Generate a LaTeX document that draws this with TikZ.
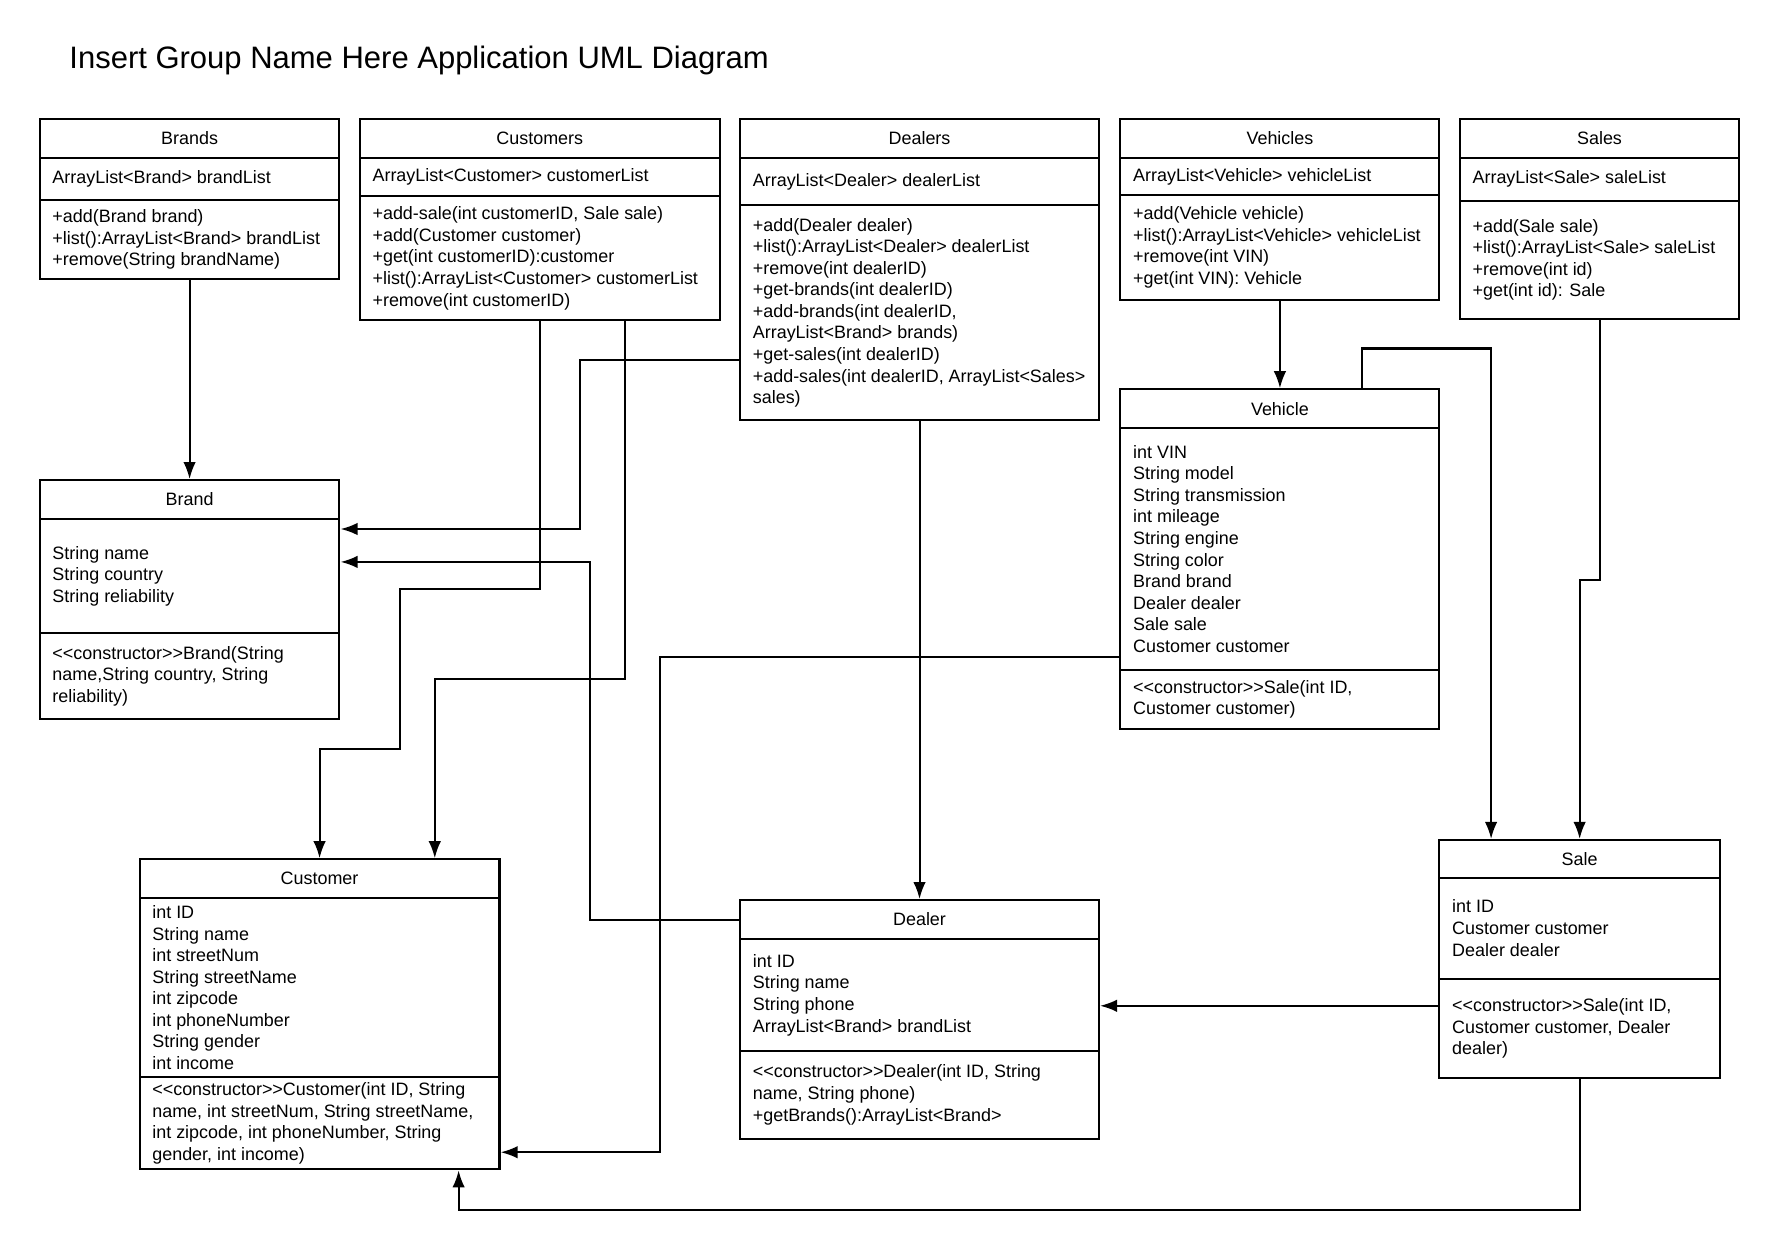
\documentclass[tikz,border=0pt]{standalone}
\usepackage{fontspec}
\newfontfamily\umlfamily{Liberation Sans}
\newcommand{\umlfont}{\umlfamily\fontsize{15.8}{19}\selectfont}
\newcommand{\titlefont}{\umlfamily\fontsize{27.3}{32}\selectfont}
\usetikzlibrary{arrows.meta}
\tikzstyle{compartment}=[draw=black, line width=1.8pt, anchor=north west, inner sep=0pt, outer sep=0pt, font=\umlfont]
\tikzstyle{member}=[anchor=west, inner sep=0pt, align=left, font=\umlfont]
\tikzstyle{link}=[->, line width=1.8pt, shorten >=1pt]
\tikzset{>={Latex[length=15pt,width=11pt]}}

\begin{document}
\begin{tikzpicture}[x=1pt, y=1pt]
        \useasboundingbox (0,0) rectangle (1568,-1102);

        % Title
        \node[anchor=base west, inner sep=0pt, font=\titlefont] (title) at (61,-60) {Insert Group Name Here Application UML Diagram};

        % Classes: head, attributes, operations
        \foreach \cls/\x/\y/\w/\hh/\ha/\ho/\t in {brands/35/105/264/34/37/70/Brands,
            customers/317/105/317/34/34/109/Customers,
            dealers/652/105/316/34/42/189/Dealers,
            vehicles/987/105/281/34/33/92/Vehicles,
            sales/1286/105/246/34/38/104/Sales,
            brand/35/423/264/34/101/75/Brand,
            customer/123/757/317/34/158/81/Customer,
            vehicle/987/343/281/34/213/52/Vehicle,
            dealer/652/793/316/34/99/77/Dealer,
            sale/1268/740/247/33/89/88/Sale}
        {
          \node[compartment, minimum width=\w, minimum height=\hh] (\cls_head) at (\x,-\y) {\t};
          \node[compartment, minimum width=\w, minimum height=\ha] (\cls_attr) at (\cls_head.south west) {};
          \node[compartment, minimum width=\w, minimum height=\ho] (\cls_ops) at (\cls_attr.south west) {};
        }

        % Brands
        \node[member] (brands_attr_text) at ([xshift=11pt]brands_attr.west) {ArrayList<Brand> brandList};
        \node[member] (brands_ops_text) at ([xshift=11pt]brands_ops.west) {+add(Brand brand)\\+list():ArrayList<Brand> brandList\\+remove(String brandName)};

        % Customers
        \node[member] (customers_attr_text) at ([xshift=11pt]customers_attr.west) {ArrayList<Customer> customerList};
        \node[member] (customers_ops_text) at ([xshift=11pt]customers_ops.west) {+add-sale(int customerID, Sale sale)\\+add(Customer customer)\\+get(int customerID):customer\\+list():ArrayList<Customer> customerList\\+remove(int customerID)};

        % Dealers
        \node[member] (dealers_attr_text) at ([xshift=11pt]dealers_attr.west) {ArrayList<Dealer> dealerList};
        \node[member] (dealers_ops_text) at ([xshift=11pt]dealers_ops.west) {+add(Dealer dealer)\\+list():ArrayList<Dealer> dealerList\\+remove(int dealerID)\\+get-brands(int dealerID)\\+add-brands(int dealerID,\\ArrayList<Brand> brands)\\+get-sales(int dealerID)\\+add-sales(int dealerID, ArrayList<Sales>\\sales)};

        % Vehicles
        \node[member] (vehicles_attr_text) at ([xshift=11pt]vehicles_attr.west) {ArrayList<Vehicle> vehicleList};
        \node[member] (vehicles_ops_text) at ([xshift=11pt]vehicles_ops.west) {+add(Vehicle vehicle)\\+list():ArrayList<Vehicle> vehicleList\\+remove(int VIN)\\+get(int VIN): Vehicle};

        % Sales
        \node[member] (sales_attr_text) at ([xshift=11pt]sales_attr.west) {ArrayList<Sale> saleList};
        \node[member] (sales_ops_text) at ([xshift=11pt]sales_ops.west) {+add(Sale sale)\\+list():ArrayList<Sale> saleList\\+remove(int id)\\+get(int id): Sale};

        % Brand
        \node[member] (brand_attr_text) at ([xshift=11pt]brand_attr.west) {String name\\String country\\String reliability};
        \node[member] (brand_ops_text) at ([xshift=11pt]brand_ops.west) {<<constructor>>Brand(String\\name,String country, String\\reliability)};

        % Customer
        \node[member] (customer_attr_text) at ([xshift=11pt]customer_attr.west) {int ID\\String name\\int streetNum\\String streetName\\int zipcode\\int phoneNumber\\String gender\\int income};
        \node[member] (customer_ops_text) at ([xshift=11pt]customer_ops.west) {<<constructor>>Customer(int ID, String\\name, int streetNum, String streetName,\\int zipcode, int phoneNumber, String\\gender, int income)};

        % Vehicle
        \node[member] (vehicle_attr_text) at ([xshift=11pt]vehicle_attr.west) {int VIN\\String model\\String transmission\\int mileage\\String engine\\String color\\Brand brand\\Dealer dealer\\Sale sale\\Customer customer};
        \node[member] (vehicle_ops_text) at ([xshift=11pt]vehicle_ops.west) {<<constructor>>Sale(int ID,\\Customer customer)};

        % Dealer
        \node[member] (dealer_attr_text) at ([xshift=11pt]dealer_attr.west) {int ID\\String name\\String phone\\ArrayList<Brand> brandList};
        \node[member] (dealer_ops_text) at ([xshift=11pt]dealer_ops.west) {<<constructor>>Dealer(int ID, String\\name, String phone)\\+getBrands():ArrayList<Brand>};

        % Sale
        \node[member] (sale_attr_text) at ([xshift=11pt]sale_attr.west) {int ID\\Customer customer\\Dealer dealer};
        \node[member] (sale_ops_text) at ([xshift=11pt]sale_ops.west) {<<constructor>>Sale(int ID,\\Customer customer, Dealer\\dealer)};

        % Connectors
        \draw[link] (brands_ops.south) -- (brand_head.north);
        \draw[link] ([yshift=-41.5pt]dealers_ops.west) -- ++(-141,0) |- ([yshift=41.5pt]brand_attr.east);
        \draw[link] (dealer_head.west) -- ++(-132,0) |- ([yshift=12.5pt]brand_attr.east);
        \draw[link] (customers_ops.south) -- ++(0,-237) -| ++(-123,-141) -| (customer_head.north);
        \draw[link] ([xshift=75pt]customers_ops.south) -- ++(0,-316) -| ([xshift=101.5pt]customer_head.north);
        \draw[link] (dealers_ops.south) -- (dealer_head.north);
        \draw[link] (vehicles_ops.south) -- (vehicle_head.north);
        \draw[link] ([xshift=72.5pt]vehicle_head.north) -- ++(0,36) -| ([xshift=-78pt]sale_head.north);
        \draw[link] (sales_ops.south) -- ++(0,-230) -| (sale_head.north);
        \draw[link] ([yshift=-95.5pt]vehicle_attr.west) -- ++(-406,0) |- ([yshift=-25.5pt]customer_ops.east);
        \draw[link] ([yshift=20pt]sale_ops.west) -- ([yshift=20pt]sale_ops.west -| dealer_attr.east);
        \draw[link] (sale_ops.south) -- ++(0,-116) -| ([xshift=122.5pt]customer_ops.south);
\end{tikzpicture}
\end{document}
